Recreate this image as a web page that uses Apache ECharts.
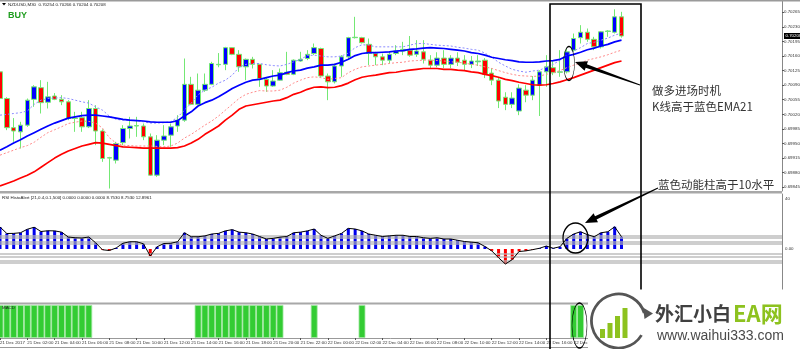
<!DOCTYPE html>
<html><head><meta charset="utf-8">
<script src="https://cdn.jsdelivr.net/npm/echarts@6/dist/echarts.min.js"></script>
<style>html,body{margin:0;padding:0;background:#fff}#c{width:800px;height:349px}</style>
</head><body><div id="c"></div>
<script>
// ---- DATA ----
// candles: [open, close, low, high], NZDUSD M30 from 21 Dec 00:00
const candles = [
[0.70122,0.70058,0.70054,0.70170],[0.70058,0.69988,0.69982,0.70061],[0.69988,0.69980,0.69954,0.70011],
[0.69978,0.69994,0.69938,0.70002],[0.69994,0.70054,0.69990,0.70058],[0.70056,0.70086,0.70038,0.70090],
[0.70084,0.70048,0.70022,0.70102],[0.70049,0.70062,0.70034,0.70098],[0.70064,0.70056,0.70054,0.70071],
[0.70056,0.70050,0.70042,0.70066],[0.70050,0.70010,0.70006,0.70054],[0.70010,0.70011,0.69978,0.70026],
[0.70012,0.69990,0.69978,0.70026],[0.69990,0.70034,0.69987,0.70054],[0.70034,0.69980,0.69946,0.70042],
[0.69980,0.69914,0.69906,0.69984],[0.69915,0.69916,0.69842,0.69918],[0.69910,0.69950,0.69902,0.69954],
[0.69952,0.69986,0.69946,0.69994],[0.69986,0.69992,0.69962,0.70014],[0.69992,0.69993,0.69966,0.70014],
[0.69992,0.69966,0.69958,0.69998],[0.69966,0.69874,0.69872,0.69974],[0.69874,0.69958,0.69870,0.69970],
[0.69958,0.69968,0.69946,0.69994],[0.69970,0.69990,0.69942,0.69998],[0.69992,0.70006,0.69978,0.70018],
[0.70006,0.70092,0.70002,0.70154],[0.70092,0.70044,0.70042,0.70110],[0.70044,0.70078,0.70042,0.70118],
[0.70078,0.70092,0.70074,0.70118],[0.70092,0.70142,0.70090,0.70146],[0.70139,0.70140,0.70133,0.70167],
[0.70140,0.70180,0.70126,0.70182],[0.70180,0.70164,0.70162,0.70181],[0.70164,0.70134,0.70122,0.70174],
[0.70134,0.70152,0.70102,0.70154],[0.70152,0.70140,0.70130,0.70158],[0.70140,0.70106,0.70086,0.70141],
[0.70104,0.70088,0.70074,0.70108],[0.70088,0.70100,0.70086,0.70126],[0.70102,0.70120,0.70100,0.70130],
[0.70121,0.70116,0.70114,0.70170],[0.70116,0.70150,0.70114,0.70152],[0.70148,0.70152,0.70146,0.70170],
[0.70154,0.70164,0.70150,0.70174],[0.70166,0.70180,0.70162,0.70190],[0.70178,0.70112,0.70110,0.70180],
[0.70112,0.70098,0.70054,0.70118],[0.70098,0.70136,0.70094,0.70142],[0.70136,0.70158,0.70110,0.70162],
[0.70158,0.70204,0.70154,0.70206],[0.70204,0.70205,0.70202,0.70254],[0.70204,0.70192,0.70190,0.70206],
[0.70188,0.70166,0.70138,0.70202],[0.70166,0.70158,0.70138,0.70170],[0.70158,0.70150,0.70138,0.70166],
[0.70150,0.70164,0.70142,0.70170],[0.70166,0.70172,0.70162,0.70186],[0.70172,0.70176,0.70162,0.70194],
[0.70174,0.70162,0.70158,0.70208],[0.70164,0.70172,0.70158,0.70198],[0.70170,0.70152,0.70142,0.70198],
[0.70150,0.70138,0.70131,0.70162],[0.70138,0.70155,0.70133,0.70169],[0.70155,0.70140,0.70131,0.70174],
[0.70140,0.70155,0.70131,0.70162],[0.70155,0.70145,0.70136,0.70169],[0.70150,0.70140,0.70126,0.70162],
[0.70140,0.70148,0.70131,0.70160],[0.70146,0.70148,0.70136,0.70162],[0.70150,0.70116,0.70107,0.70155],
[0.70119,0.70102,0.70090,0.70131],[0.70102,0.70052,0.70035,0.70107],[0.70061,0.70044,0.70030,0.70073],
[0.70044,0.70059,0.70035,0.70073],[0.70028,0.70083,0.70018,0.70092],[0.70078,0.70066,0.70049,0.70090],
[0.70066,0.70102,0.70054,0.70112],[0.70090,0.70122,0.70016,0.70126],[0.70122,0.70134,0.70086,0.70162],
[0.70132,0.70120,0.70114,0.70150],[0.70121,0.70122,0.70110,0.70174],[0.70122,0.70170,0.70118,0.70178],
[0.70174,0.70202,0.70170,0.70214],[0.70204,0.70217,0.70190,0.70234],[0.70217,0.70200,0.70194,0.70226],
[0.70200,0.70182,0.70174,0.70206],[0.70182,0.70218,0.70178,0.70220],[0.70219,0.70220,0.70206,0.70222],
[0.70217,0.70254,0.70214,0.70272],[0.70254,0.70208,0.70204,0.70266]
];
// EMA21 (solid blue)
const emaBlue = [0.69934,0.69942,0.69951,0.69959,0.69968,0.69976,0.69984,0.69992,0.69999,0.70005,
0.70011,0.70014,0.70017,0.70018,0.70018,0.70016,0.70014,0.70011,0.70008,0.70006,
0.70005,0.70004,0.70002,0.70001,0.70001,0.70001,0.70005,0.70016,0.70026,0.70040,
0.70048,0.70054,0.70062,0.70072,0.70082,0.70090,0.70097,0.70102,0.70104,0.70108,
0.70112,0.70114,0.70120,0.70124,0.70126,0.70131,0.70134,0.70138,0.70138,0.70140,
0.70145,0.70152,0.70161,0.70166,0.70168,0.70168,0.70169,0.70170,0.70172,0.70173,
0.70176,0.70177,0.70179,0.70180,0.70179,0.70178,0.70176,0.70174,0.70172,0.70168,
0.70166,0.70162,0.70157,0.70154,0.70151,0.70149,0.70146,0.70145,0.70145,0.70146,
0.70148,0.70149,0.70152,0.70160,0.70164,0.70169,0.70175,0.70179,0.70184,0.70188,
0.70194,0.70198];
// dotted blue
const bandBlue = [0.70018,0.70020,0.70022,0.70024,0.70028,0.70044,0.70054,0.70058,0.70059,0.70060,
0.70058,0.70054,0.70050,0.70047,0.70038,0.70030,0.70016,0.70008,0.70006,0.70006,
0.70005,0.70002,0.69999,0.69999,0.70000,0.70002,0.70013,0.70030,0.70047,0.70067,
0.70078,0.70085,0.70095,0.70102,0.70114,0.70133,0.70140,0.70142,0.70142,0.70139,
0.70137,0.70136,0.70140,0.70146,0.70152,0.70161,0.70162,0.70160,0.70158,0.70158,
0.70160,0.70167,0.70180,0.70187,0.70186,0.70182,0.70182,0.70182,0.70182,0.70182,
0.70186,0.70190,0.70190,0.70188,0.70186,0.70185,0.70184,0.70181,0.70179,0.70176,
0.70174,0.70167,0.70157,0.70145,0.70136,0.70128,0.70124,0.70121,0.70124,0.70126,
0.70133,0.70140,0.70150,0.70162,0.70172,0.70180,0.70190,0.70193,0.70198,0.70203,
0.70210,0.70215];
// solid red
const emaRed = [0.69848,0.69854,0.69860,0.69867,0.69874,0.69882,0.69893,0.69904,0.69915,0.69924,
0.69932,0.69938,0.69944,0.69948,0.69952,0.69951,0.69948,0.69945,0.69942,0.69941,
0.69940,0.69939,0.69939,0.69939,0.69939,0.69939,0.69940,0.69944,0.69951,0.69960,
0.69972,0.69982,0.69992,0.70006,0.70018,0.70032,0.70040,0.70043,0.70046,0.70049,
0.70052,0.70054,0.70060,0.70068,0.70073,0.70080,0.70085,0.70086,0.70084,0.70085,
0.70089,0.70095,0.70103,0.70109,0.70112,0.70114,0.70117,0.70120,0.70121,0.70124,
0.70126,0.70128,0.70130,0.70130,0.70130,0.70128,0.70128,0.70126,0.70125,0.70122,
0.70120,0.70116,0.70113,0.70109,0.70104,0.70101,0.70097,0.70094,0.70091,0.70090,
0.70091,0.70094,0.70098,0.70103,0.70108,0.70114,0.70120,0.70126,0.70132,0.70138,
0.70144,0.70148];
// dotted red
const bandRed = [0.69922,0.69928,0.69934,0.69940,0.69945,0.69953,0.69965,0.69976,0.69983,0.69990,
0.69998,0.70001,0.70004,0.70003,0.69999,0.69987,0.69964,0.69951,0.69946,0.69945,
0.69944,0.69944,0.69944,0.69943,0.69942,0.69944,0.69951,0.69963,0.69972,0.69983,
0.69994,0.70004,0.70016,0.70030,0.70044,0.70058,0.70068,0.70073,0.70077,0.70076,
0.70076,0.70078,0.70085,0.70095,0.70102,0.70108,0.70110,0.70108,0.70104,0.70106,
0.70108,0.70120,0.70128,0.70134,0.70136,0.70138,0.70140,0.70142,0.70144,0.70145,
0.70148,0.70149,0.70150,0.70150,0.70149,0.70148,0.70146,0.70145,0.70143,0.70140,
0.70138,0.70134,0.70130,0.70125,0.70120,0.70116,0.70113,0.70112,0.70111,0.70112,
0.70116,0.70120,0.70125,0.70132,0.70138,0.70143,0.70150,0.70154,0.70158,0.70163,
0.70169,0.70174];
// RSI HistoAlert histogram
const rsiHist = [17.6,12.4,12.5,13,15.8,17.4,14,14.6,14.5,13.5,
9.6,9,8.8,9.6,5,-0.6,-1.2,0.8,4.6,5.8,
5.8,4.2,-5.6,1.8,4.4,4.6,5.8,13,9.8,9.8,
10.5,12,12.5,14.5,15.5,13.5,13,12,10,8,
8.5,9.5,10,13,13.5,14.5,16,11,8.5,10.5,
12.5,16.5,16,14.5,12,11,10,10.5,11,11,
10,10,9,8.5,9,8,8,7,6,5.5,
5,2,-1.5,-7,-12,-8.5,-2,-1.5,-0.5,0.6,
2.4,0.6,1.8,8.5,12,13.8,11.5,9.8,13,13.8,
17.8,9.8];
const rsiLevels = [11, 9, 6, 4, -4, -6, -9, -11];
// MACD panel: 1 = green bar
const macdOn = [1,1,1,1,1,1,1,1,1,1, 1,1,1,1,0,0,0,0,0,0, 0,0,0,0,0,0,0,0,0,1,
1,1,1,1,1,1,1,1,1,1, 1,1,0,0,0,0,1,0,0,0, 0,0,0,1,0,0,0,0,0,0,
0,0,0,0,0,0,0,0,0,0, 0,0,0,0,0,0,0,0,0,0, 0,0,0,0,1,1,0,0,0,0, 0,0];
const priceTicks = [0.70265,0.70230,0.70195,0.70160,0.70125,0.70090,0.70055,0.70020,0.69985,0.69950,0.69915,0.69880,0.69845];
const rsiTicks = [40, 0];
const timeLabels = ['21 Dec 2017','21 Dec 02:00','21 Dec 04:00','21 Dec 06:00','21 Dec 08:00','21 Dec 10:00',
'21 Dec 12:00','21 Dec 14:00','21 Dec 16:00','21 Dec 18:00','21 Dec 20:00','21 Dec 22:00','22 Dec 00:00',
'22 Dec 02:00','22 Dec 04:00','22 Dec 06:00','22 Dec 08:00','22 Dec 10:00','22 Dec 12:00','22 Dec 14:00',
'22 Dec 16:00','22 Dec 18:00'];

// ---- CHART ----
const SLOTS = 115;
const cats = Array.from({length: SLOTS}, (_, i) => String(i));
const FF = 'Liberation Sans, Arial, sans-serif';
const CJK = 'Noto Sans CJK SC, sans-serif';
const small = {fontFamily: FF, fontSize: 4.4, color: '#333'};
const gridBase = {left: -3.4, width: 785.4, containLabel: false, outerBoundsMode: 'none'};
const last = candles[candles.length - 1];
const lastClose = last[1];
const titleText = 'NZDUSD,M30  ' + [last[0], last[3], last[2], last[1]].map(v => v.toFixed(5)).join(' ');
const priceLabelValues = priceTicks.concat([lastClose]);

const chart = echarts.init(document.getElementById('c'), null, {renderer: 'canvas'});

function ellipse(cx, cy, rx, ry) {
  return {type: 'circle', x: cx, y: cy, scaleX: rx / ry, shape: {cx: 0, cy: 0, r: ry},
    style: {fill: null, stroke: '#000', lineWidth: 1.5, strokeNoScale: true}, z: 100};
}
function txt(text, x, y, size, opts) {
  return {type: 'text', z: 100, style: Object.assign({text, x, y, fontSize: size, fontFamily: FF,
    fill: '#222', verticalAlign: 'middle', align: 'left'}, opts || {})};
}

const graphics = [
  {type: 'rect', z: 60, shape: {x: 0, y: 0, width: 800, height: 1.5}, style: {fill: '#9a9a9a'}},
  {type: 'rect', z: 60, shape: {x: 0, y: 191, width: 782, height: 2.5}, style: {fill: '#a8a8a8'}},
  {type: 'rect', z: 60, shape: {x: 0, y: 302.5, width: 782, height: 2}, style: {fill: '#a8a8a8'}},
  {type: 'line', z: 60, shape: {x1: 0, y1: 347.5, x2: 800, y2: 347.5}, style: {stroke: '#999', lineWidth: 1}},
  {type: 'polygon', z: 100, shape: {points: [[2, 3], [6, 3], [4, 5.5]]}, style: {fill: '#000'}},
  txt(titleText, 8, 4.4, 4.4),
  txt('BUY', 8, 15.5, 9, {fontWeight: 'bold', fill: '#1f9d1f'}),
  txt('RSI HistoAlert [21,0.4,0.1,500] 0.0000 0.0000 0.0000 8.7530 8.7530 12.8961', 2, 197.5, 4.4),
  txt('MACD', 2, 307.5, 4.4),
  // annotation box
  {type: 'polyline', z: 100, shape: {points: [[550, 349], [550, 4], [641, 4], [641, 290]]},
    style: {stroke: '#000', lineWidth: 1.6, fill: null}},
  ellipse(569, 63.5, 5.5, 17),
  ellipse(575.5, 238, 12.5, 15),
  ellipse(579.5, 325.5, 7.5, 22.5),
  {type: 'polygon', z: 100, shape: {points: [[575, 62], [588.0, 61.3], [586.9, 64.3], [640.1, 84.6],
    [639.9, 85.4], [585.7, 67.7], [584.6, 70.7]]}, style: {fill: '#000'}},
  {type: 'polygon', z: 100, shape: {points: [[585, 223], [598.0, 222.3], [596.6, 219.4], [658.2, 188.4],
    [657.8, 187.6], [595.0, 216.2], [593.6, 213.3]]}, style: {fill: '#000'}},
  txt('做多进场时机', 652, 91, 11.5, {fontFamily: CJK, fill: '#333'}),
  txt('K线高于蓝色EMA21', 652, 107, 11.5, {fontFamily: CJK, fill: '#333'}),
  txt('蓝色动能柱高于10水平', 658, 185, 11.5, {fontFamily: CJK, fill: '#333'}),
  // logo
  {type: 'rect', z: 150, shape: {x: 588, y: 289.5, width: 212, height: 59.5}, style: {fill: '#fff'}},
  {type: 'arc', z: 151, shape: {cx: 618.5, cy: 321, r: 27, startAngle: 0.55, endAngle: Math.PI * 2 - 0.3, clockwise: true},
    style: {stroke: '#555', lineWidth: 2.8, fill: null}},
  {type: 'polygon', z: 151, shape: {points: [[653, 313.5], [643, 307.5], [644.5, 319]]}, style: {fill: '#555'}},
  {type: 'rect', z: 151, shape: {x: 600, y: 329, width: 5, height: 9}, style: {fill: '#8dc21f'}},
  {type: 'rect', z: 151, shape: {x: 607.5, y: 323, width: 5, height: 15}, style: {fill: '#8dc21f'}},
  {type: 'rect', z: 151, shape: {x: 615, y: 316, width: 5, height: 22}, style: {fill: '#8dc21f'}},
  {type: 'rect', z: 151, shape: {x: 622.5, y: 308, width: 5, height: 30}, style: {fill: '#8dc21f'}},
  {type: 'text', z: 152, style: {text: '外汇小白', x: 655, y: 314, fontSize: 19, fontWeight: 'bold', fontFamily: CJK,
    fill: '#404040', verticalAlign: 'middle'}},
  {type: 'text', z: 152, style: {text: 'EA网', x: 733, y: 314, fontSize: 22, fontWeight: 'bold', fontFamily: CJK,
    fill: '#8dc21f', verticalAlign: 'middle'}},
  {type: 'text', z: 152, style: {text: 'www.waihui333.com', x: 657, y: 336, fontSize: 14, fontFamily: FF,
    fill: '#4a4a4a', verticalAlign: 'middle'}}
];

const option = {
  animation: false,
  backgroundColor: '#fff',
  grid: [
    Object.assign({top: 1, height: 190}, gridBase),
    Object.assign({top: 194, height: 109}, gridBase),
    Object.assign({top: 305, height: 33}, gridBase)
  ],
  xAxis: [
    {type: 'category', gridIndex: 0, data: cats, show: false},
    {type: 'category', gridIndex: 1, data: cats, show: false},
    {type: 'category', gridIndex: 2, data: cats,
      axisLine: {show: true, lineStyle: {color: '#999', width: 1}},
      axisTick: {show: true, interval: 3, alignWithLabel: true, length: 2, lineStyle: {color: '#555'}},
      axisLabel: Object.assign({interval: 3, align: 'left', margin: 2.5,
        formatter: (v, i) => timeLabels[i / 4] || ''}, small),
      splitLine: {show: false}}
  ],
  yAxis: [
    {type: 'value', gridIndex: 0, position: 'right', min: 0.69836, max: 0.70292,
      axisLine: {show: true, lineStyle: {color: '#888'}},
      axisTick: {show: true, customValues: priceTicks, length: 2, lineStyle: {color: '#555'}},
      axisLabel: Object.assign({customValues: priceLabelValues, hideOverlap: false, margin: 2,
        formatter: v => (Math.abs(v - lastClose) < 1e-9 ? '{box|' + v.toFixed(5) + '}' : v.toFixed(5)),
        rich: {box: {backgroundColor: '#000', color: '#fff', fontSize: 4.4, fontFamily: FF, padding: [1, 1.5, 1, 1.5]}}
      }, small),
      splitLine: {show: false}},
    {type: 'value', gridIndex: 1, position: 'right', min: -43.2, max: 44,
      axisLine: {show: true, lineStyle: {color: '#888'}},
      axisTick: {show: false},
      axisLabel: Object.assign({customValues: rsiTicks, formatter: v => (v === 0 ? '0.00' : String(v)), margin: 3}, small),
      splitLine: {show: false}},
    {type: 'value', gridIndex: 2, position: 'right', min: 0, max: 1,
      axisLine: {show: true, lineStyle: {color: '#888'}}, axisTick: {show: false},
      axisLabel: {show: false}, splitLine: {show: false}}
  ],
  series: [
    {type: 'candlestick', xAxisIndex: 0, yAxisIndex: 0, data: candles, barWidth: 5, z: 2,
      itemStyle: {color: '#0000ff', color0: '#ff0000', borderColor: '#74e874', borderColor0: '#74e874',
        borderColorDoji: '#74e874', borderWidth: 1}},
    {type: 'line', xAxisIndex: 0, yAxisIndex: 0, data: bandBlue, showSymbol: false, symbol: 'none', z: 3,
      lineStyle: {color: '#8a8aff', width: 1, type: [2, 2]}},
    {type: 'line', xAxisIndex: 0, yAxisIndex: 0, data: bandRed, showSymbol: false, symbol: 'none', z: 3,
      lineStyle: {color: '#ff8a8a', width: 1, type: [2, 2]}},
    {type: 'line', xAxisIndex: 0, yAxisIndex: 0, data: emaBlue, showSymbol: false, symbol: 'none', z: 3,
      lineStyle: {color: '#0000ff', width: 1.7}},
    {type: 'line', xAxisIndex: 0, yAxisIndex: 0, data: emaRed, showSymbol: false, symbol: 'none', z: 3,
      lineStyle: {color: '#ff0000', width: 1.7}},
    {type: 'bar', xAxisIndex: 1, yAxisIndex: 1, data: rsiHist, barWidth: 3, z: 2,
      itemStyle: {color: p => (p.value < 0 ? '#ff0000' : '#0000ee')}},
    {type: 'line', xAxisIndex: 1, yAxisIndex: 1, data: [], z: 4,
      markLine: {silent: true, symbol: 'none', animation: false, label: {show: false},
        lineStyle: {color: 'rgba(180,180,180,0.65)', width: 2, type: 'solid'},
        data: rsiLevels.map(v => ({yAxis: v}))}},
    {type: 'line', xAxisIndex: 1, yAxisIndex: 1, data: rsiHist, showSymbol: false, symbol: 'none', z: 5,
      lineStyle: {color: '#000', width: 1}},
    {type: 'bar', xAxisIndex: 2, yAxisIndex: 2, data: macdOn.map(v => (v ? 1 : null)), barWidth: '100%', z: 2,
      itemStyle: {color: '#33cc33', borderColor: '#a6e8a6', borderWidth: 0.8}}
  ],
  graphic: graphics
};
chart.setOption(option);
</script>
</body></html>
